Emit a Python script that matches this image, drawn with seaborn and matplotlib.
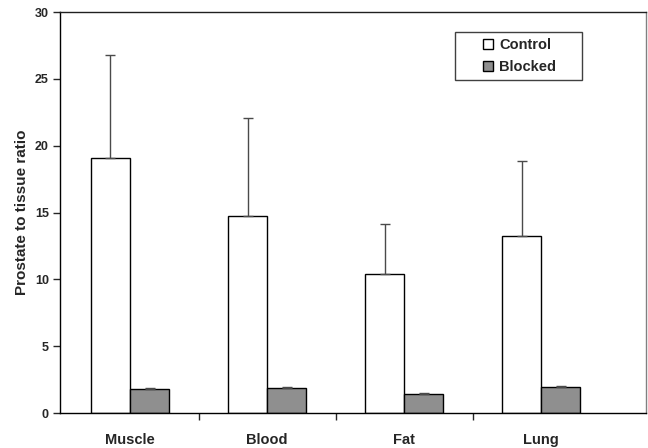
import matplotlib
matplotlib.use("Agg")
import matplotlib.pyplot as plt
from matplotlib.patches import Rectangle
import seaborn as sns
import pandas as pd
import numpy as np

tissues = ["Muscle", "Blood", "Fat", "Lung"]
control = [19.05, 14.78, 10.37, 13.22]
control_err = [7.75, 7.31, 3.77, 5.65]
blocked = [1.80, 1.90, 1.45, 1.95]
blocked_err = [0.08, 0.08, 0.07, 0.08]
groups = ["Control", "Blocked"]
yticks = [0, 5, 10, 15, 20, 25, 30]

sns.set_style("ticks")
plt.rcParams["font.family"] = ["Liberation Sans", "DejaVu Sans"]
plt.rcParams["font.weight"] = "bold"

df = pd.DataFrame({
    "Tissue": tissues * 2,
    "Group": [groups[0]] * 4 + [groups[1]] * 4,
    "Ratio": control + blocked,
})
errs = control_err + blocked_err

fig = plt.figure(figsize=(6.48, 4.48), dpi=100)
ax = fig.add_axes([0.0926, 0.078, 0.9044, 0.895])
sns.barplot(data=df, x="Tissue", y="Ratio", hue="Group", order=tissues,
            hue_order=groups, palette={"Control": "white", "Blocked": "#8f8f8f"},
            edgecolor="black", linewidth=1.0, width=0.57, errorbar=None,
            ax=ax, legend=True)

# error bars, placed at the bar centres computed by seaborn
patches = [p for p in ax.patches][:8]
xs = [p.get_x() + p.get_width() / 2 for p in patches]
hs = [p.get_height() for p in patches]
ax.errorbar(xs, hs, yerr=[np.zeros(len(errs)), errs], fmt="none",
            ecolor="#4a4a4a", elinewidth=1.0, capsize=3.6, capthick=1.0, zorder=1)

ax.set_ylim(0, 30)
ax.set_xlim(-0.511, 3.766)
ax.set_yticks(yticks)
ax.set_yticklabels([str(v) for v in yticks], fontsize=9, fontweight="bold")
ax.set_xticks(range(len(tissues)))
ax.set_xticklabels(tissues, fontsize=10.5, fontweight="bold")
ax.tick_params(axis="x", which="major", length=0, pad=14)
ax.set_xticks([0.5, 1.5, 2.5], minor=True)
ax.tick_params(axis="x", which="minor", length=5, width=1, direction="out")
ax.tick_params(axis="y", length=5, width=1, direction="out", pad=3)
ax.set_xlabel("")
ax.set_ylabel("Prostate to tissue ratio", fontsize=11, fontweight="bold", labelpad=4)

for s in ["left", "bottom"]:
    ax.spines[s].set_color("black")
    ax.spines[s].set_linewidth(1.0)
ax.spines["top"].set_visible(True)
ax.spines["top"].set_color("#202020")
ax.spines["top"].set_linewidth(1.0)
ax.spines["right"].set_visible(True)
ax.spines["right"].set_color("#808080")
ax.spines["right"].set_linewidth(1.0)

# legend frame (wider box, content centred as in the reference)
bx, by, bw, bh = 0.674, 0.830, 0.217, 0.120
ax.add_patch(Rectangle((bx, by), bw, bh, transform=ax.transAxes,
                       facecolor="white", edgecolor="#404040", linewidth=1.0,
                       zorder=4))
leg = ax.legend(loc="center", bbox_to_anchor=(bx + bw / 2 + 0.002, by + bh / 2),
                frameon=False, fontsize=10.5,
                handlelength=0.7, handleheight=0.7, handletextpad=0.4,
                borderpad=0.0, labelspacing=0.55)
leg.set_zorder(5)
for t in leg.get_texts():
    t.set_fontweight("bold")

fig.savefig("out.png", dpi=100)
